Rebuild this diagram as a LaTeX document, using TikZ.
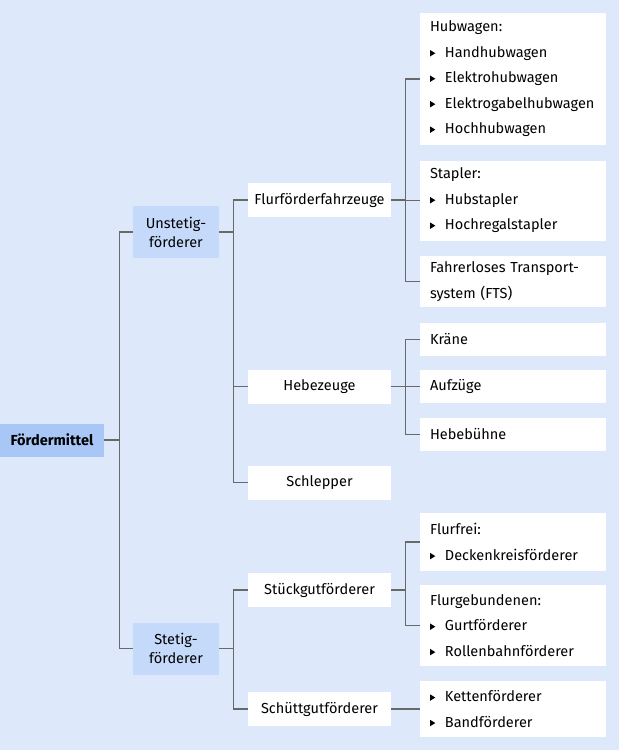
\documentclass[tikz,border=0pt]{standalone}
\usepackage{fontspec}
\setmainfont{Fira Sans}
\usetikzlibrary{positioning}
\definecolor{bgblue}{RGB}{221,232,251}
\definecolor{rootblue}{RGB}{168,199,247}
\definecolor{midblue}{RGB}{197,218,250}
\definecolor{linegray}{RGB}{105,105,105}
\newcommand{\bul}{\tikz[baseline=0pt]\fill (0pt,0.7pt)--(0pt,5.6pt)--(4pt,3.15pt)--cycle;\hspace{7.2pt}}
\tikzset{
  every node/.style={font=\fontsize{10.9}{19.1}\selectfont, inner sep=0pt},
  rootbox/.style={fill=rootblue, font=\fontsize{10.9}{19.1}\selectfont\bfseries, minimum width=78pt, minimum height=24.75pt},
  midbox/.style={fill=midblue, font=\fontsize{10.9}{14.2}\selectfont, minimum width=64.5pt, minimum height=39pt, align=center},
  subbox/.style={fill=white, minimum width=107.25pt, minimum height=25.5pt},
  leafbox/.style={fill=white, text width=124.5pt, inner xsep=7.5pt, align=left, minimum height=#1},
  conn/.style={draw=linegray, line width=0.8pt}
}
\begin{document}
\begin{tikzpicture}[x=0.75pt, y=-0.75pt]
\fill[bgblue] (0,0) rectangle (619,750);
\useasboundingbox (0,0) rectangle (619,750);
% Ebene 1 und 2
\node[rootbox] (root) at (52,440) {Fördermittel};
\node[midbox] (unst) at (176,232) {Unstetig-\\förderer};
\node[midbox] (stet) at (176,648.5) {Stetig-\\förderer};
% Ebene 3
\node[subbox] (flur) at (319.5,200) {Flurförderfahrzeuge};
\node[subbox] (hebe) at (319.5,386.5) {Hebezeuge};
\node[subbox] (schl) at (319.5,482.5) {Schlepper};
\node[subbox] (stueck) at (319.5,590) {Stückgutförderer};
\node[subbox] (schuett) at (319.5,709) {Schüttgutförderer};
% Ebene 4
\node[leafbox=99pt] (hubw) at (513,79) {Hubwagen:\\\bul Handhubwagen\\\bul Elektrohubwagen\\\bul Elektrogabelhubwagen\\\bul Hochhubwagen};
\node[leafbox=60pt] (stap) at (513,200.5) {Stapler:\\\bul Hubstapler\\\bul Hochregalstapler};
\node[leafbox=38.25pt] (fts) at (513,281.5) {Fahrerloses Transport-\\system (FTS)};
\node[leafbox=24.75pt] (kraene) at (513,339.5) {Kräne};
\node[leafbox=24.75pt] (aufz) at (513,386.5) {Aufzüge};
\node[leafbox=24.75pt] (hebeb) at (513,434.5) {Hebebühne};
\node[leafbox=43.5pt] (flurfrei) at (513,542) {Flurfrei:\\\bul Deckenkreisförderer};
\node[leafbox=60.75pt] (flurgeb) at (513,625.5) {Flurgebundenen:\\\bul Gurtförderer\\\bul Rollenbahnförderer};
\node[leafbox=42pt] (kette) at (513,709) {\bul Kettenförderer\\\bul Bandförderer};
% Verbindungen
\draw[conn] (root.east) -- +(15,0) coordinate (k1);
\draw[conn] (unst.west) -| (k1);
\draw[conn] (stet.west) -| (k1);
\draw[conn] (unst.east) -- +(14,0) coordinate (k2);
\draw[conn] (flur.west) -| (k2);
\draw[conn] (hebe.west) -| (k2);
\draw[conn] (schl.west) -| (k2);
\draw[conn] (stet.east) -- +(14,0) coordinate (k3);
\draw[conn] (stueck.west) -| (k3);
\draw[conn] (schuett.west) -| (k3);
\draw[conn] (flur.east) -- +(14,0) coordinate (k4);
\draw[conn] (hubw.west) -| (k4);
\draw[conn] (stap.west) -| (k4);
\draw[conn] (fts.west) -| (k4);
\draw[conn] (hebe.east) -- +(14,0) coordinate (k5);
\draw[conn] (kraene.west) -| (k5);
\draw[conn] (aufz.west) -| (k5);
\draw[conn] (hebeb.west) -| (k5);
\draw[conn] (stueck.east) -- +(14,0) coordinate (k6);
\draw[conn] (flurfrei.west) -| (k6);
\draw[conn] (flurgeb.west) -| (k6);
\draw[conn] (schuett.east) -- (kette.west);
\end{tikzpicture}
\end{document}
